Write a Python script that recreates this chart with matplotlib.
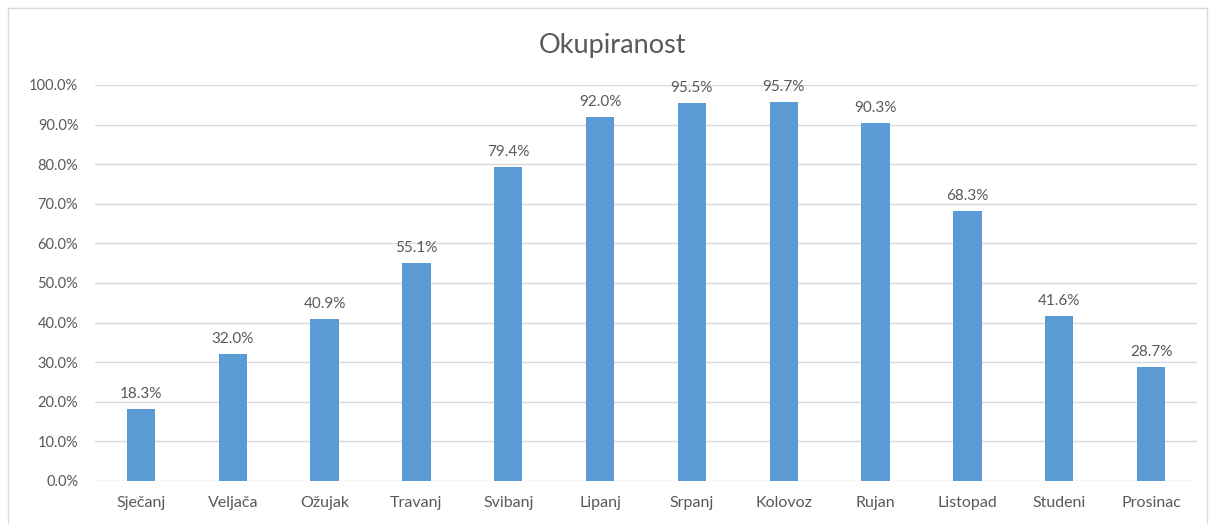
import matplotlib.pyplot as plt
from matplotlib.patches import Rectangle
from matplotlib.ticker import PercentFormatter

months = ['Sječanj', 'Veljača', 'Ožujak', 'Travanj', 'Svibanj', 'Lipanj',
          'Srpanj', 'Kolovoz', 'Rujan', 'Listopad', 'Studeni', 'Prosinac']
occupancy = [18.3, 32.0, 40.9, 55.1, 79.4, 92.0, 95.5, 95.7, 90.3, 68.3, 41.6, 28.7]

plt.rcParams['font.family'] = ['Lato', 'DejaVu Sans']
text_col = '#595959'

fig = plt.figure(figsize=(12.14, 5.24), dpi=100)
fig.patches.append(Rectangle((8 / 1214, -0.05), 1199 / 1214, 1.05 - 8 / 524,
                             transform=fig.transFigure, fill=False,
                             edgecolor='#d9d9d9', linewidth=1))
ax = fig.add_axes([95 / 1214, 1 - 481 / 524, (1197 - 95) / 1214, (481 - 85) / 524])

x = range(len(months))
bars = ax.bar(x, occupancy, width=0.31, color='#5b9bd5', zorder=3)
for b, v in zip(bars, occupancy):
    ax.text(b.get_x() + b.get_width() / 2, v + 2.0, f'{v:.1f}%', ha='center',
            va='bottom', fontsize=11, color=text_col)

ax.set_xlim(-0.5, len(months) - 0.5)
ax.set_ylim(0, 100)
ax.set_yticks(range(0, 101, 10))
ax.yaxis.set_major_formatter(PercentFormatter(decimals=1))
ax.set_xticks(list(x), labels=months)
ax.tick_params(axis='both', length=0, labelsize=10.5, labelcolor=text_col)
ax.tick_params(axis='x', pad=11, labelsize=11.5)
ax.tick_params(axis='y', pad=12)
ax.grid(axis='y', color='#d9d9d9', linewidth=1, zorder=0)
for s in ax.spines.values():
    s.set_visible(False)

fig.text(612 / 1214, 1 - 45 / 524, 'Okupiranost', ha='center', va='center',
         fontsize=19.5, color=text_col)

fig.savefig('out.png', dpi=100)
